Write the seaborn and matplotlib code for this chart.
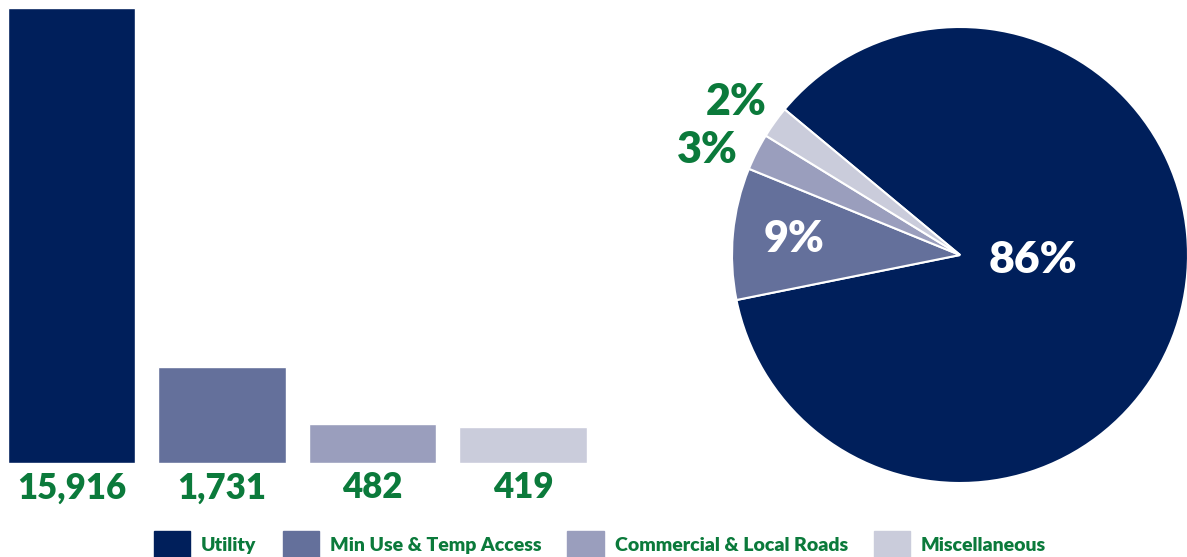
import numpy as np
import pandas as pd
import matplotlib
matplotlib.use("Agg")
import matplotlib.pyplot as plt
import matplotlib.patches as mpatches
import seaborn as sns

categories = ["Utility", "Min Use & Temp Access", "Commercial & Local Roads", "Miscellaneous"]
counts = [15916, 1731, 482, 419]
colors = ["#001F5B", "#64709B", "#9A9EBD", "#CACCDB"]
green = "#0B7A3B"

sns.set_style("white")
plt.rcParams["font.family"] = ["Lato", "DejaVu Sans"]

df = pd.DataFrame({"category": categories, "count": counts})

fig = plt.figure(figsize=(11.87, 5.57), dpi=100)

# bar chart (left)
ax = fig.add_axes([0.0, 0.1688, 600 / 1187, 0.8169])
sns.barplot(data=df, x="category", y="count", hue="category", palette=colors,
            width=0.845, legend=False, saturation=1, ax=ax)
ax.set_yscale("function", functions=(lambda v: np.sign(v) * np.abs(v) ** 0.7,
                                     lambda v: np.sign(v) * np.abs(v) ** (1 / 0.7)))
ax.set_ylim(0, max(counts))
ax.set_xlim(-0.475, -0.475 + 600 / 150.5)
for i, c in enumerate(counts):
    ax.annotate(f"{c:,}", (i, 0), xytext=(0, -6), textcoords="offset points",
                ha="center", va="top", fontsize=25, fontweight="heavy",
                color=green, annotation_clip=False)
ax.set_axis_off()

# pie chart (right)
pax = fig.add_axes([732 / 1187, 74 / 557, 456 / 1187, 456 / 557])
total = sum(counts)
start = 140.3
wedges, _ = pax.pie(counts, colors=colors, startangle=start, counterclock=False,
                    wedgeprops=dict(edgecolor="white", linewidth=1.5))
pax.set_xlim(-1, 1)
pax.set_ylim(-1, 1)
pax.set_aspect("equal")

angle = start
label_r = [0.33, 0.73, 1.2, 1.19]
label_shift = [0, 0, 4.3, 1.3]
label_c = ["white", "white", green, green]
label_fs = [32, 31, 31, 31]
for i, c in enumerate(counts):
    span = 360 * c / total
    mid = np.deg2rad(angle - span / 2 + label_shift[i])
    angle -= span
    r = label_r[i]
    dy = 0.06 if i == 0 else 0.0
    pax.text(r * np.cos(mid), r * np.sin(mid) + dy, f"{round(100 * c / total)}%",
             ha="center", va="center", fontsize=label_fs[i], fontweight="heavy",
             color=label_c[i])

handles = [mpatches.Patch(color=col, label=cat) for cat, col in zip(categories, colors)]
leg = fig.legend(handles=handles, loc="center", bbox_to_anchor=(600 / 1187, 1 - 545 / 557),
                 ncol=4, frameon=False, handlelength=1.86, handleheight=1.84,
                 handletextpad=0.57, columnspacing=1.34, prop=dict(weight="heavy", size=14))
for t in leg.get_texts():
    t.set_color(green)

fig.savefig("out.png", dpi=100)
